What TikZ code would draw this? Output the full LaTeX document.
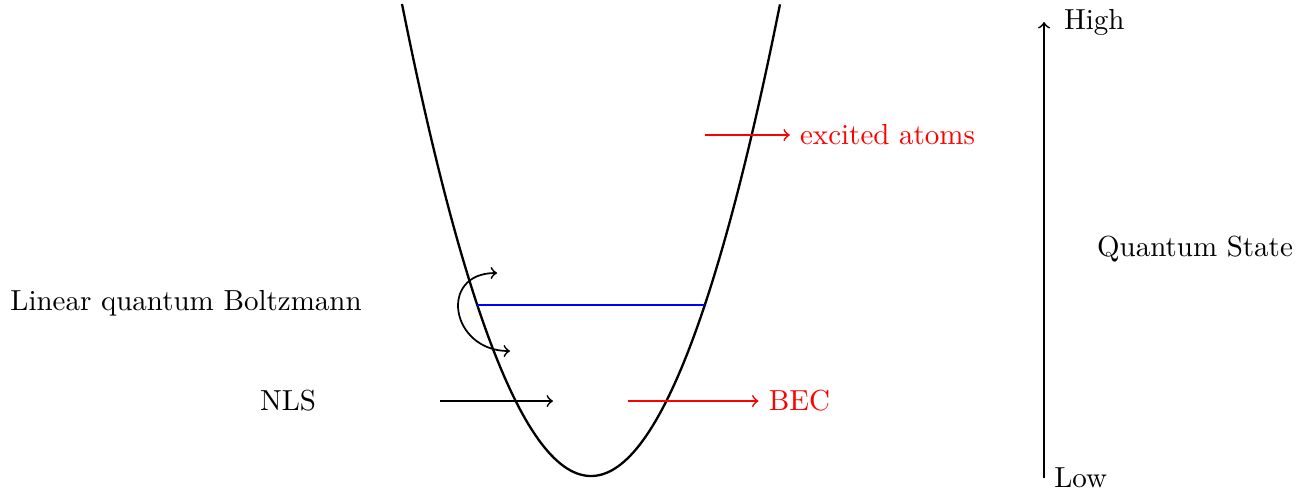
\documentclass[tikz,border=0pt]{standalone}
\usetikzlibrary{positioning}

\begin{document}
\begin{tikzpicture}[
    trap/.style={thick},
    flow/.style={semithick,->},
    swap/.style={semithick,<->},
    hot/.style={semithick,->,red}]
    \useasboundingbox (-7.164,-0.218) rectangle (8.727,5.770);

    % harmonic trap
    \draw[trap, domain=-2.291:2.291, samples=120] plot (\x,{1.09*\x*\x});

    % condensate level
    \coordinate (gl) at (-1.379,2.073);
    \coordinate (gr) at (1.379,2.073);
    \draw[semithick, blue] (gl) -- (gr);

    % excited atoms
    \coordinate (ex) at (1.382,4.133);
    \node[red, anchor=west] (exc) at (2.41,4.133) {excited atoms};
    \draw[hot] (ex) -- (exc.west);

    % BEC
    \coordinate (bs) at (0.448,0.909);
    \node[red, anchor=west] (bec) at (2.03,0.909) {BEC};
    \draw[hot] (bs) -- (bec.west);

    % NLS
    \node (nls) at (-3.673,0.909) {NLS};
    \coordinate (na) at (-1.830,0.909);
    \coordinate (nb) at (-0.461,0.909);
    \draw[flow] (na) -- (nb);

    % linear quantum Boltzmann
    \node (lqb) at (-4.909,2.097) {Linear quantum Boltzmann};
    \coordinate (bt) at (-1.139,2.461);
    \coordinate (bb) at (-0.982,1.515);
    \draw[swap] (bt) .. controls +(-0.72,0) and +(-0.72,0) .. (bb);

    % quantum state axis
    \coordinate (lo) at (5.491,-0.024);
    \coordinate (hi) at (5.491,5.503);
    \draw[flow] (lo) -- (hi);
    \node[right=0.12cm of hi] (high) {High};
    \node[right=0pt of lo] (low) {Low};
    \node (qs) at (7.321,2.752) {Quantum State};
\end{tikzpicture}
\end{document}
